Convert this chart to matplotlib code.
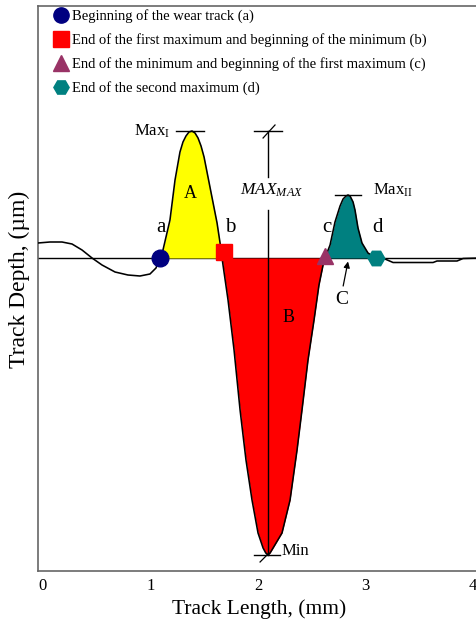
import matplotlib
matplotlib.use("Agg")
import matplotlib.pyplot as plt
import numpy as np
from matplotlib.lines import Line2D

plt.rcParams['font.family'] = ['Liberation Serif', 'DejaVu Serif']
plt.rcParams['mathtext.fontset'] = 'custom'
plt.rcParams['mathtext.rm'] = 'Liberation Serif'
plt.rcParams['mathtext.it'] = 'Liberation Serif:italic'

# ---- data (x in mm, y in arbitrary depth units) ----
track_x = [-0.047, 0.065, 0.177, 0.27, 0.363, 0.456, 0.549, 0.67, 0.79, 0.902, 0.995, 1.051,
           1.088, 1.116, 1.181, 1.228, 1.274, 1.302, 1.33, 1.358, 1.386, 1.414, 1.442, 1.47,
           1.498, 1.553, 1.619, 1.647,
           1.665, 1.721, 1.777, 1.833, 1.888, 1.944, 2.0, 2.047, 2.072, 2.093, 2.112, 2.14,
           2.223, 2.298, 2.363, 2.409, 2.465, 2.521, 2.567, 2.605,
           2.623, 2.67, 2.716, 2.763, 2.791, 2.819, 2.837, 2.856, 2.884, 2.902, 2.93, 2.967,
           3.023,
           3.098, 3.181, 3.256, 3.628, 3.665, 3.851, 3.907, 4.074]
track_y = [0.15, 0.16, 0.16, 0.14, 0.08, 0.0, -0.07, -0.14, -0.17, -0.18, -0.16, -0.10,
           0.0, 0.08, 0.38, 0.78, 1.06, 1.16, 1.22, 1.26, 1.27, 1.25, 1.20, 1.12,
           1.01, 0.71, 0.35, 0.15,
           0.0, -0.42, -0.92, -1.52, -2.02, -2.42, -2.75, -2.90, -2.95, -2.97, -2.95, -2.90,
           -2.75, -2.42, -1.92, -1.52, -1.02, -0.62, -0.27, -0.07,
           0.0, 0.13, 0.36, 0.52, 0.59, 0.62, 0.63, 0.62, 0.56, 0.48, 0.30, 0.15,
           0.05,
           0.0, -0.01, -0.045, -0.045, -0.03, -0.03, -0.005, 0.0]

point_labels = ['a', 'b', 'c', 'd']
point_x = [1.088, 1.68, 2.623, 3.098]
point_y = [0.0, 0.06, 0.02, 0.0]
legend_labels = ['Beginning of the wear track (a)',
                 'End of the first maximum and beginning of the minimum (b)',
                 'End of the minimum and beginning of the first maximum (c)',
                 'End of the second maximum (d)']

max1 = 1.27
max2 = 0.63
min_depth = -2.97
min_x = 2.093

x_ticks = [0, 1, 2, 3, 4]
x_tick_labels = ['0', '1', '2', '3', '4']

# ---- styling ----
markers = ['o', 's', '^', 'H']
marker_colors = ['#000080', '#FF0000', '#993366', '#008080']
region_colors = ['#FFFF00', '#FF0000', '#008080']

fig = plt.figure(figsize=(4.76, 6.33), dpi=100)
ax = fig.add_axes([38 / 476, 62 / 633, 443 / 476, 565 / 633])
ax.set_xlim(-0.0465, 4.074)
ax.set_ylim(-3.13, 2.52)

tx = np.array(track_x)
ty = np.array(track_y)

# baseline
ax.axhline(0, color='black', lw=1.0, zorder=1)

# filled regions
ax.fill_between(tx, ty, 0, where=(tx >= point_x[0]) & (tx <= 1.665),
                color=region_colors[0], lw=0, zorder=2)
ax.fill_between(tx, ty, 0, where=(tx >= 1.665) & (tx <= point_x[2]),
                color=region_colors[1], lw=0, zorder=2)
ax.fill_between(tx, ty, 0, where=(tx >= point_x[2]) & (tx <= point_x[3]),
                color=region_colors[2], lw=0, zorder=2)

# profile curve
ax.plot(tx, ty, color='black', lw=1.15, zorder=3)

# reference lines
lc = 'black'
ax.plot([1.237, 1.498], [max1, max1], color=lc, lw=1.0, zorder=4)
ax.plot([1.963, 2.223], [max1, max1], color=lc, lw=1.0, zorder=4)
ax.plot([2.716, 2.958], [max2, max2], color=lc, lw=1.0, zorder=4)
ax.plot([1.963, 2.205], [min_depth, min_depth], color=lc, lw=1.0, zorder=4)
ax.plot([min_x, min_x], [max1, 0.81], color=lc, lw=1.0, zorder=4)
ax.plot([min_x, min_x], [0.48, min_depth], color=lc, lw=1.0, zorder=4)
ax.plot([2.047, 2.158], [1.20, 1.33], color=lc, lw=0.9, zorder=4)
ax.plot([2.019, 2.093], [-3.04, -2.96], color=lc, lw=0.9, zorder=4)

# markers
handles = []
for px, py, m, c, lab in zip(point_x, point_y, markers, marker_colors, legend_labels):
    ax.plot([px], [py], marker=m, ms=12, color=c, mec=c, ls='none', zorder=5)
    handles.append(Line2D([], [], marker=m, ms=11, color=c, mec=c, ls='none', label=lab))

# text annotations
ax.text(1.18, max1, r'Max$_{\mathrm{I}}$', ha='right', va='center', fontsize=12)
ax.text(3.07, 0.68, r'Max$_{\mathrm{II}}$', ha='left', va='center', fontsize=12)
ax.text(2.223, -2.93, 'Min', ha='left', va='center', fontsize=12)
ax.text(2.13, 0.68, r'$MAX_{MAX}$', ha='center', va='center', fontsize=12.5)
for lab, lx in zip(point_labels, [1.098, 1.74, 2.642, 3.107]):
    ax.text(lx, 0.30, lab, ha='center', va='center', fontsize=15)
ax.text(1.367, 0.65, 'A', ha='center', va='center', fontsize=13)
ax.text(2.279, -0.59, 'B', ha='center', va='center', fontsize=13)
ax.text(2.781, -0.41, 'C', ha='center', va='center', fontsize=14)
ax.annotate('', xy=(2.837, -0.035), xytext=(2.792, -0.28),
            arrowprops=dict(arrowstyle='-|>', color='black', lw=0.9, mutation_scale=9,
                            shrinkA=0, shrinkB=0))

# legend
leg = ax.legend(handles=handles, loc='upper left', bbox_to_anchor=(0.035, 0.995),
                frameon=False, fontsize=10.5, handlelength=1.0, handletextpad=0.3,
                labelspacing=0.7, borderaxespad=0, borderpad=0)

# axes styling
for s in ['left', 'top', 'bottom']:
    ax.spines[s].set_color('#666666')
    ax.spines[s].set_linewidth(1.2)
ax.spines['right'].set_visible(False)
ax.set_xticks(x_ticks)
ax.set_xticklabels(x_tick_labels, fontsize=12)
ax.set_yticks([])
ax.tick_params(axis='x', length=0, pad=5)

ax.set_xlabel('Track Length, (mm)', fontsize=15.5)
ax.xaxis.set_label_coords(0.499, -0.068)
ax.xaxis.label.set_va('center')
ax.set_ylabel('Track Depth, (µm)', fontsize=17)
ax.yaxis.set_label_coords(-0.043, 0.517)
ax.yaxis.label.set_va('center')

fig.savefig('out.png', dpi=100)
